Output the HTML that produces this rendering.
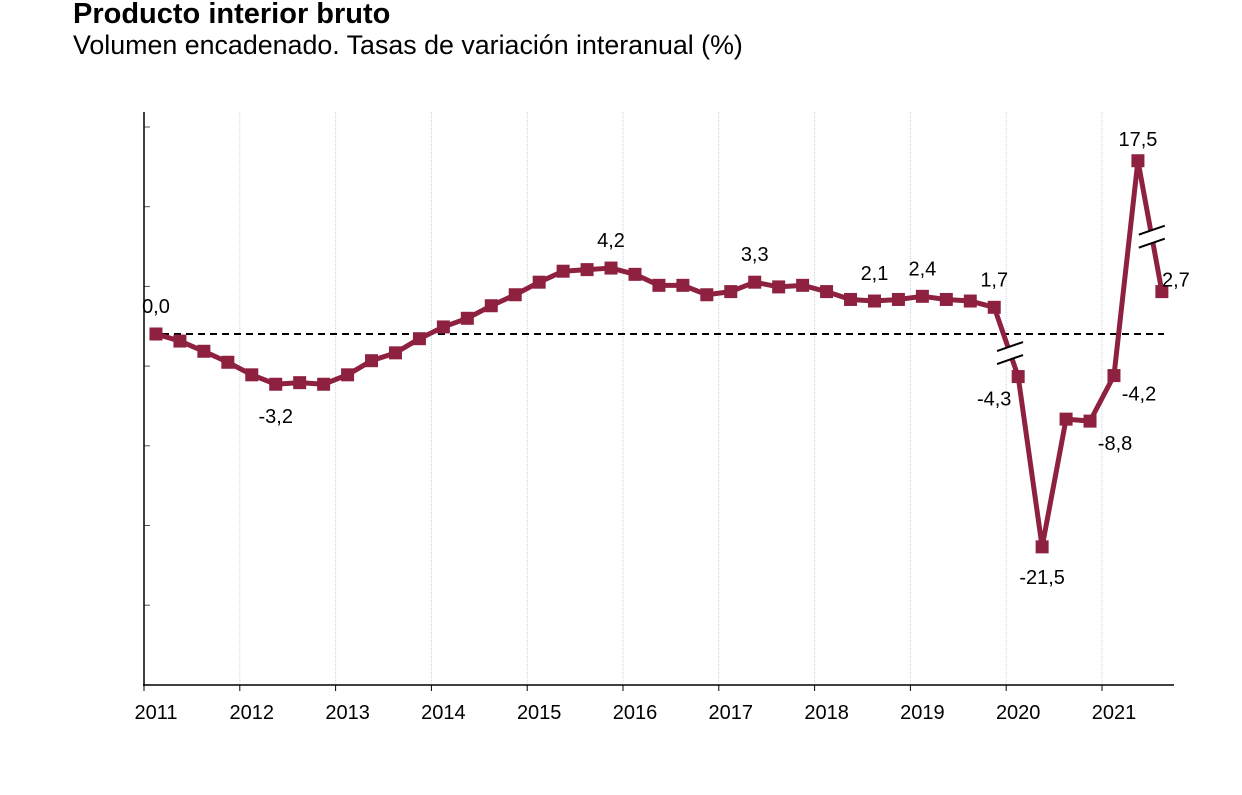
<!DOCTYPE html>
<html><head><meta charset="utf-8"><style>
body{margin:0;background:#fff;font-family:"Liberation Sans",Arial,sans-serif;}
</style></head><body>
<svg width="1242" height="790" viewBox="0 0 1242 790" xmlns="http://www.w3.org/2000/svg" style="font-family:'Liberation Sans',Arial,sans-serif">
<text x="73" y="23" font-size="29" font-weight="bold" fill="#000">Producto interior bruto</text>
<text x="73" y="54" font-size="26.8" fill="#000">Volumen encadenado. Tasas de variación interanual (%)</text>
<g id="grid"></g>
<g id="axes"></g>
<g id="series"></g>
<g id="labels"></g>
</svg>
<script>
const years = ['2011','2012','2013','2014','2015','2016','2017','2018','2019','2020','2021'];
const values = [0.0,-0.45,-1.1,-1.8, -2.6,-3.2,-3.1,-3.2, -2.6,-1.7,-1.2,-0.3, 0.45,1.0,1.8,2.5, 3.3,4.0,4.1,4.2, 3.8,3.1,3.1,2.5, 2.7,3.3,3.0,3.1, 2.7,2.2,2.1,2.2, 2.4,2.2,2.1,1.7, -4.3,-21.5,-8.6,-8.8, -4.2,17.5,2.7];
const compressed = [36,37,38,39,40,41];
const labelIdx = [0,5,19,25,30,32,35,36,37,39,40,41,42];
const labelText = ['0,0','-3,2','4,2','3,3','2,1','2,4','1,7','-4,3','-21,5','-8,8','-4,2','17,5','2,7'];
const yTicks = [0,1,2,3,4,5,6,7];

const NS='http://www.w3.org/2000/svg';
const x0=144, yearW=95.8, y0=334;
function xQ(i){return x0+(i+0.5)*yearW/4;}
function xYear(k){return x0+k*yearW;}
function yV(v,i){const s=compressed.indexOf(i)>=0?9.9:15.7;return y0-v*s;}
function mk(tag,attrs,parent){const e=document.createElementNS(NS,tag);for(const k in attrs)e.setAttribute(k,attrs[k]);parent.appendChild(e);return e;}
const grid=document.getElementById('grid'),axes=document.getElementById('axes'),ser=document.getElementById('series'),lab=document.getElementById('labels');

years.forEach((y,k)=>{
  const X=xYear(k);
  if(k>0){const g=mk('line',{x1:X,y1:112,x2:X,y2:685,stroke:'#c5d3e6','stroke-width':1,'stroke-dasharray':'1,1'},grid);
  
  }
  const t=mk('line',{x1:X,y1:685,x2:X,y2:691,stroke:'#000','stroke-width':1},axes);
  
  
  const tx=mk('text',{x:X+12,y:719,'font-size':20,'text-anchor':'middle',fill:'#000'},axes);
  tx.textContent=y;
  
  
});
yTicks.forEach(k=>{
  const Y=127+k*79.7;
  const t=mk('line',{x1:144,y1:Y,x2:150,y2:Y,stroke:'#555','stroke-width':1},axes);
  
  
});
const ya=mk('line',{x1:144,y1:112,x2:144,y2:686,stroke:'#000','stroke-width':1.5},axes);


const xa=mk('line',{x1:143,y1:685,x2:1174,y2:685,stroke:'#000','stroke-width':1.5},axes);


const zl=mk('line',{x1:150,y1:yV(0,0),x2:1164,y2:yV(0,0),stroke:'#000','stroke-width':2,'stroke-dasharray':'7,5'},axes);



const pts=values.map((v,i)=>[xQ(i),yV(v,i)]);
const pl=mk('polyline',{points:pts.map(p=>p.join(',')).join(' '),fill:'none',stroke:'#8e2040','stroke-width':5,'stroke-linejoin':'round'},ser);


pts.forEach(p=>{
  const r=mk('rect',{x:p[0]-6.5,y:p[1]-6.5,width:13,height:13,fill:'#8e2040'},ser);
  
  
});
[[35,36,0.66],[41,42,0.58]].forEach(([a,b,f])=>{
  const mx=pts[a][0]+(pts[b][0]-pts[a][0])*f,my=pts[a][1]+(pts[b][1]-pts[a][1])*f;
  const g=mk('g',{},ser);
  
  
  mk('polygon',{points:`${mx-13},${my-2} ${mx+13},${my-11} ${mx+13},${my+2} ${mx-13},${my+11}`,fill:'#fff'},g);
  mk('line',{x1:mx-13,y1:my-2,x2:mx+13,y2:my-11,stroke:'#000','stroke-width':2},g);
  mk('line',{x1:mx-13,y1:my+11,x2:mx+13,y2:my+2,stroke:'#000','stroke-width':2},g);
});
const off={0:[0,-28],5:[0,32],19:[0,-28],25:[0,-28],30:[0,-28],32:[0,-28],35:[0,-28],36:[-24,22],37:[0,30],39:[25,22],40:[25,18],41:[0,-22],42:[14,-12]};
labelIdx.forEach((i,j)=>{
  const o=off[i]||[0,-28];
  const t=mk('text',{x:pts[i][0]+o[0],y:pts[i][1]+o[1]+7,'font-size':20,'text-anchor':'middle',fill:'#000'},lab);
  t.textContent=labelText[j];
  
  
});
</script>
</body></html>
